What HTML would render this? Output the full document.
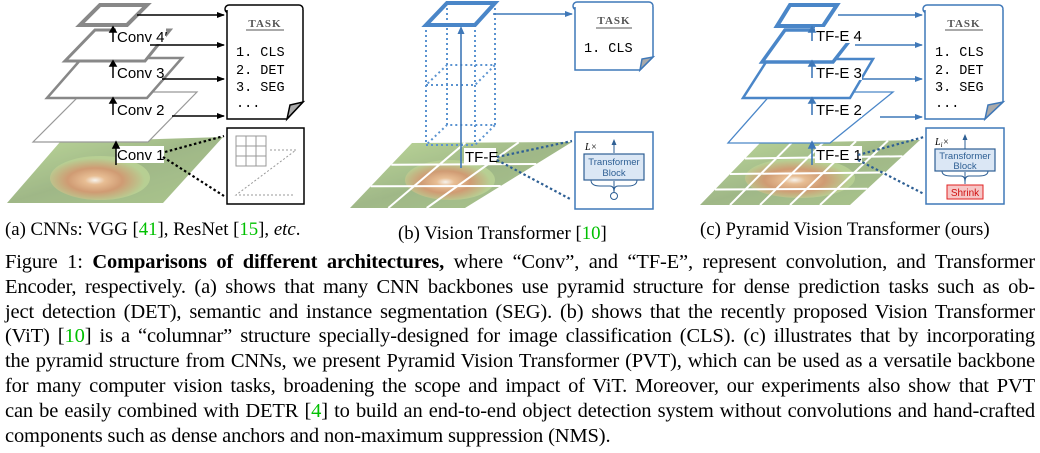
<!DOCTYPE html>
<html><head><meta charset="utf-8"><style>
body{margin:0;width:1040px;height:453px;background:#fff;overflow:hidden;position:relative;font-family:"Liberation Serif",serif;}
.cap{position:absolute;left:5px;width:1030px;font-size:20.5px;letter-spacing:-0.15px;line-height:24.8px;white-space:nowrap;}
.j{text-align:justify;text-align-last:justify;white-space:normal;height:25px;overflow:visible}
.g{color:#00c000}
.sub{position:absolute;font-size:18.8px;top:219px;white-space:nowrap}
</style></head><body>
<svg width="1040" height="245" style="position:absolute;left:0;top:0" font-family="Liberation Sans, sans-serif">
<defs>
<marker id="ak" markerWidth="8" markerHeight="8" refX="7" refY="4" orient="auto" markerUnits="userSpaceOnUse"><path d="M0,1 L8,4 L0,7z" fill="#000"/></marker>
<marker id="ab" markerWidth="8" markerHeight="8" refX="7" refY="4" orient="auto" markerUnits="userSpaceOnUse"><path d="M0,1 L8,4 L0,7z" fill="#3f78b8"/></marker>
<radialGradient id="panda" cx="0.45" cy="0.55" r="0.5"><stop offset="0" stop-color="#f4f0e8"/><stop offset="0.2" stop-color="#e0a870"/><stop offset="0.55" stop-color="#c07a45"/><stop offset="1" stop-color="#a0c070"/></radialGradient>
<linearGradient id="bg" x1="0" y1="0" x2="1" y2="1"><stop offset="0" stop-color="#a8cc78"/><stop offset="0.5" stop-color="#80a060"/><stop offset="1" stop-color="#90b468"/></linearGradient>
</defs>

<!-- ===== Panel (a) ===== -->
<g opacity="0.75">
<polygon points="7,203 163,203 223,137 60,142" fill="url(#bg)"/>
<ellipse cx="100" cy="178" rx="50" ry="22" fill="url(#panda)"/>
</g>
<polygon points="33,142 148,142 197,92 83,92" fill="#fff" stroke="#999" stroke-width="1.2"/>
<polygon points="47,98 147,98 182,58 82,58" fill="#fff" stroke="#888" stroke-width="2.5"/>
<polygon points="65,61 145,61 170,30 95,30" fill="#fff" stroke="#888" stroke-width="3"/>
<polygon points="80,25 127,25 147,5 100,5" fill="#fff" stroke="#888" stroke-width="4"/>
<g stroke="#000" stroke-width="1.5" fill="none">
<line x1="137" y1="15" x2="224" y2="15" marker-end="url(#ak)"/>
<line x1="150" y1="45" x2="224" y2="45" marker-end="url(#ak)"/>
<line x1="160" y1="79" x2="224" y2="79" marker-end="url(#ak)"/>
<line x1="172" y1="116" x2="224" y2="116" marker-end="url(#ak)"/>
</g>
<g font-size="15">
<rect x="116" y="28" width="50" height="16" fill="#fff"/><text x="117" y="42">Conv 4′</text>
<rect x="116" y="64" width="46" height="16" fill="#fff"/><text x="117" y="78">Conv 3</text>
<rect x="116" y="101" width="46" height="16" fill="#fff"/><text x="117" y="115">Conv 2</text>
<rect x="116" y="146" width="48" height="17" fill="#fff"/><text x="117" y="160">Conv 1</text>
</g>
<g stroke="#000" stroke-width="1.5">
<line x1="113" y1="42" x2="113" y2="30"/><path d="M110,32 L113,27 L116,32z" fill="#000"/>
<line x1="113" y1="78" x2="113" y2="64"/><path d="M110,66 L113,61 L116,66z" fill="#000"/>
<line x1="113" y1="115" x2="113" y2="101"/><path d="M110,103 L113,98 L116,103z" fill="#000"/>
<line x1="116" y1="165" x2="116" y2="146"/><path d="M113,148 L116,142 L119,148z" fill="#000"/>
</g>
<g stroke="#000" stroke-width="1.5" fill="#fff">
<rect x="225" y="5" width="78" height="8" rx="4"/>
<path d="M227,10 L227,119 L287,119 L303,102 L303,10"/>
<path d="M287,119 L290,105 L303,102z" fill="#aaa"/>
</g>
<text x="265" y="27" text-anchor="middle" font-family="Liberation Serif,serif" font-size="11" font-weight="bold" fill="#555" letter-spacing="1">TASK</text>
<line x1="246" y1="30" x2="284" y2="30" stroke="#555"/>
<g font-family="Liberation Mono,monospace" font-size="13.5">
<text x="236" y="56">1. CLS</text><text x="236" y="74">2. DET</text><text x="236" y="91">3. SEG</text><text x="236" y="107">...</text></g>
<rect x="227" y="128" width="77" height="76" fill="#fff" stroke="#000" stroke-width="1.5"/>
<g stroke="#999" stroke-width="1" fill="none">
<rect x="236" y="136" width="30" height="30"/><line x1="246" y1="136" x2="246" y2="166"/><line x1="256" y1="136" x2="256" y2="166"/><line x1="236" y1="146" x2="266" y2="146"/><line x1="236" y1="156" x2="266" y2="156"/>
<path d="M270,150 L296,150 L236,195 L294,195" stroke-dasharray="2,2"/>
</g>
<g stroke="#000" stroke-width="2.2" stroke-dasharray="2.5,2.5">
<line x1="165" y1="152" x2="224" y2="136"/><line x1="163" y1="157" x2="224" y2="196"/></g>

<!-- ===== Panel (b) ===== -->
<g opacity="0.75">
<polygon points="350,208 465,208 572,142 412,143" fill="url(#bg)"/>
<ellipse cx="450" cy="180" rx="45" ry="20" fill="url(#panda)"/>
</g>
<g stroke="#fff" stroke-width="2">
<line x1="370.7" y1="186.3" x2="500.7" y2="186"/><line x1="391.3" y1="164.7" x2="536.3" y2="164"/>
<line x1="388.3" y1="208" x2="465.3" y2="142.7"/><line x1="426.7" y1="208" x2="518.7" y2="142.3"/></g>
<g stroke="#5b93d0" stroke-width="2" stroke-dasharray="2,3" fill="none">
<line x1="426" y1="25" x2="426" y2="145"/><line x1="475" y1="25" x2="475" y2="145"/>
<line x1="447" y1="3" x2="447" y2="125"/><line x1="495" y1="3" x2="495" y2="125"/>
<polygon points="426,85 475,85 495,65 447,65"/>
<polygon points="426,145 475,145 495,125 447,125"/>
</g>
<polygon points="426,25 475,25 495,3 447,3" fill="none" stroke="#4a86c8" stroke-width="4"/>
<line x1="461" y1="168" x2="461" y2="33" stroke="#3f78b8" stroke-width="1.6"/><path d="M457.5,34 L461,26 L464.5,34z" fill="#3f78b8"/>
<rect x="464" y="148" width="32" height="17" fill="#fff"/><text x="465" y="162" font-size="15">TF-E</text>
<line x1="493" y1="14" x2="572" y2="14" stroke="#3f78b8" stroke-width="1.6" marker-end="url(#ab)"/>
<g stroke="#3f78b8" stroke-width="1.5" fill="#fff">
<rect x="573" y="2" width="80" height="8" rx="4"/>
<path d="M575,7 L575,70 L640,70 L653,57 L653,7"/>
<path d="M640,70 L642,59 L653,57z" fill="#aaa"/>
</g>
<text x="614" y="24" text-anchor="middle" font-family="Liberation Serif,serif" font-size="11" font-weight="bold" fill="#555" letter-spacing="1">TASK</text>
<line x1="596" y1="28" x2="632" y2="28" stroke="#555"/>
<text x="584" y="52" font-family="Liberation Mono,monospace" font-size="13.5">1. CLS</text>
<rect x="575" y="132" width="78" height="77" fill="#fff" stroke="#3f78b8" stroke-width="1.5"/>
<text x="585" y="150" font-size="10" font-style="italic" font-family="Liberation Serif,serif">L×</text>
<line x1="614" y1="153" x2="614" y2="143" stroke="#2e5f94"/><path d="M611.5,145 L614,139 L616.5,145z" fill="#2e5f94"/>
<rect x="584" y="154" width="60" height="26" fill="#dbe7f5" stroke="#2e5f94" stroke-width="1.2"/>
<text x="614" y="165" text-anchor="middle" font-size="9.5" fill="#2e5f94">Transformer</text>
<text x="614" y="176" text-anchor="middle" font-size="9.5" fill="#2e5f94">Block</text>
<path d="M591,180 Q591,186 600,186 L610,186 Q614,186 614,192 Q614,186 618,186 L628,186 Q637,186 637,180" fill="none" stroke="#2e5f94"/>
<line x1="614" y1="192" x2="614" y2="181" stroke="#2e5f94"/>
<circle cx="614" cy="196" r="3.5" fill="#fff" stroke="#2e5f94"/>
<g stroke="#2e5f94" stroke-width="2.2" stroke-dasharray="2.5,2.5">
<line x1="497" y1="157" x2="572" y2="141"/><line x1="497" y1="160" x2="572" y2="200"/></g>

<!-- ===== Panel (c) ===== -->
<g opacity="0.75">
<polygon points="700,205 850,205 920,140 760,143" fill="url(#bg)"/>
<ellipse cx="800" cy="178" rx="55" ry="20" fill="url(#panda)"/>
</g>
<g stroke="#fff" stroke-width="2">
<line x1="715" y1="189.5" x2="867.5" y2="188.75"/><line x1="730" y1="174" x2="885" y2="172.5"/><line x1="745" y1="158.5" x2="902.5" y2="156.25"/>
<line x1="730" y1="205" x2="792" y2="142.4"/><line x1="760" y1="205" x2="824" y2="141.8"/><line x1="790" y1="205" x2="856" y2="141.2"/><line x1="820" y1="205" x2="888" y2="140.6"/></g>
<polygon points="728,143 830,143 893,92 773,92" fill="#fff" stroke="#4a86c8" stroke-width="1.3"/>
<polygon points="743,98 850,98 873,59 768,59" fill="#fff" stroke="#4a86c8" stroke-width="2.5"/>
<polygon points="762,62 833,62 858,30 785,30" fill="#fff" stroke="#4a86c8" stroke-width="3.5"/>
<polygon points="777,26 823,26 837,5 790,5" fill="#fff" stroke="#4a86c8" stroke-width="4"/>
<g stroke="#3f78b8" stroke-width="1.6">
<line x1="838" y1="15" x2="922" y2="15" marker-end="url(#ab)"/>
<line x1="855" y1="45" x2="922" y2="45" marker-end="url(#ab)"/>
<line x1="862" y1="79" x2="922" y2="79" marker-end="url(#ab)"/>
<line x1="880" y1="117" x2="922" y2="117" marker-end="url(#ab)"/>
</g>
<g font-size="15">
<rect x="815" y="27" width="47" height="16" fill="#fff"/><text x="816" y="41">TF-E 4</text>
<rect x="815" y="64" width="47" height="16" fill="#fff"/><text x="816" y="78">TF-E 3</text>
<rect x="815" y="101" width="47" height="16" fill="#fff"/><text x="816" y="115">TF-E 2</text>
<rect x="815" y="146" width="47" height="17" fill="#fff"/><text x="816" y="160">TF-E 1</text>
</g>
<g stroke="#3f78b8" stroke-width="1.6" fill="#3f78b8">
<line x1="812" y1="41" x2="812" y2="30"/><path d="M809,32 L812,27 L815,32z"/>
<line x1="812" y1="78" x2="812" y2="64"/><path d="M809,66 L812,61 L815,66z"/>
<line x1="812" y1="115" x2="812" y2="101"/><path d="M809,103 L812,98 L815,103z"/>
<line x1="812" y1="165" x2="812" y2="147"/><path d="M809,148 L812,142 L815,148z"/>
</g>
<g stroke="#3f78b8" stroke-width="1.5" fill="#fff">
<rect x="923" y="5" width="80" height="8" rx="4"/>
<path d="M925,10 L925,119 L985,119 L1003,102 L1003,10"/>
<path d="M985,119 L988,105 L1003,102z" fill="#aaa"/>
</g>
<text x="964" y="27" text-anchor="middle" font-family="Liberation Serif,serif" font-size="11" font-weight="bold" fill="#555" letter-spacing="1">TASK</text>
<line x1="945" y1="30" x2="983" y2="30" stroke="#555"/>
<g font-family="Liberation Mono,monospace" font-size="13.5">
<text x="935" y="56">1. CLS</text><text x="935" y="74">2. DET</text><text x="935" y="91">3. SEG</text><text x="935" y="107">...</text></g>
<rect x="926" y="128" width="78" height="76" fill="#fff" stroke="#3f78b8" stroke-width="1.5"/>
<text x="935" y="145" font-size="10" font-style="italic" font-family="Liberation Serif,serif">L<tspan font-size="7" dy="2">i</tspan><tspan dy="-2">×</tspan></text>
<line x1="965" y1="149" x2="965" y2="138" stroke="#2e5f94"/><path d="M962.5,140 L965,134 L967.5,140z" fill="#2e5f94"/>
<rect x="935" y="149" width="60" height="22" fill="#dbe7f5" stroke="#2e5f94" stroke-width="1.2"/>
<text x="965" y="159" text-anchor="middle" font-size="9.5" fill="#2e5f94">Transformer</text>
<text x="965" y="169" text-anchor="middle" font-size="9.5" fill="#2e5f94">Block</text>
<path d="M942,171 Q942,176 951,176 L961,176 Q965,176 965,182 Q965,176 969,176 L979,176 Q988,176 988,171" fill="none" stroke="#2e5f94"/>
<line x1="965" y1="184" x2="965" y2="172" stroke="#2e5f94"/>
<rect x="947" y="185" width="36" height="14" fill="#f6c6c6" stroke="#e02020"/>
<text x="965" y="196" text-anchor="middle" font-size="10" fill="#d01010">Shrink</text>
<g stroke="#2e5f94" stroke-width="2.2" stroke-dasharray="2.5,2.5">
<line x1="858" y1="155" x2="924" y2="137"/><line x1="858" y1="160" x2="924" y2="194"/></g>
</svg>

<div class="sub" style="left:5px">(a) CNNs: VGG [<span class="g">41</span>], ResNet [<span class="g">15</span>], <i>etc</i>.</div>
<div class="sub" style="left:398px;top:223px">(b) Vision Transformer [<span class="g">10</span>]</div>
<div class="sub" style="left:700px">(c) Pyramid Vision Transformer (ours)</div>

<div class="cap j" style="top:250px">Figure 1: <b>Comparisons of different architectures,</b> where “Conv”, and “TF-E”, represent convolution, and Transformer</div>
<div class="cap j" style="top:274.8px">Encoder, respectively. (a) shows that many CNN backbones use pyramid structure for dense prediction tasks such as ob-</div>
<div class="cap j" style="top:299.6px">ject detection (DET), semantic and instance segmentation (SEG). (b) shows that the recently proposed Vision Transformer</div>
<div class="cap j" style="top:324.4px">(ViT) [<span class="g">10</span>] is a “columnar” structure specially-designed for image classification (CLS). (c) illustrates that by incorporating</div>
<div class="cap j" style="top:349.2px">the pyramid structure from CNNs, we present Pyramid Vision Transformer (PVT), which can be used as a versatile backbone</div>
<div class="cap j" style="top:374px">for many computer vision tasks, broadening the scope and impact of ViT. Moreover, our experiments also show that PVT</div>
<div class="cap j" style="top:398.8px">can be easily combined with DETR [<span class="g">4</span>] to build an end-to-end object detection system without convolutions and hand-crafted</div>
<div class="cap" style="top:423.6px">components such as dense anchors and non-maximum suppression (NMS).</div>
</body></html>
